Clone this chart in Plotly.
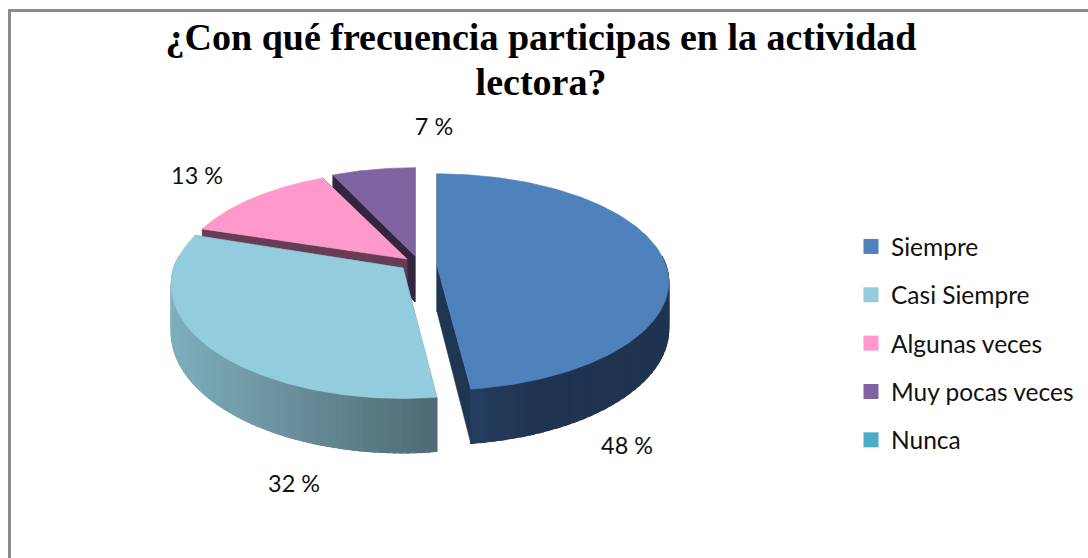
import numpy as np
import plotly.graph_objects as go

categories = ["Siempre", "Casi Siempre", "Algunas veces", "Muy pocas veces", "Nunca"]
values = [48, 32, 13, 7, 0]
title_lines = ["¿Con qué frecuencia participas en la actividad", "lectora?"]

top_colors = ["#4F81BD", "#93CDDD", "#FF99CC", "#8064A2", "#4BACC6"]
cut_colors = ["#1E3650", "#5F7F88", "#663D55", "#32263F", "#2A6070"]
wall_left = ["#263E60", "#7FAFBD", "#663D55", "#32263F", "#2A6070"]
wall_right = ["#1F3450", "#4F6B73", "#663D55", "#32263F", "#2A6070"]

# projected disc geometry (screen units)
AX, BY, PERSP, DEPTH = 229.0, 108.4, 0.153, 46.0
apexes = [(437, 265.5), (403, 268), (407, 259), (415, 256)]
scale_x = [1.0, 1.0, 0.985, 0.96]
scale_y = [0.975, 1.02, 0.94, 0.94]
label_pos = [(627, 448), (294, 486), (197, 178), (434, 129)]


def project(theta, i):
    u, v = np.sin(theta), np.cos(theta)
    w = 1 + PERSP * v
    return (apexes[i][0] + scale_x[i] * AX * u / w,
            apexes[i][1] - scale_y[i] * BY * v / w,
            DEPTH / w)


def mix(c1, c2, t):
    a = [int(c1[i:i + 2], 16) for i in (1, 3, 5)]
    b = [int(c2[i:i + 2], 16) for i in (1, 3, 5)]
    return "rgb({},{},{})".format(*[round(p + (q - p) * t) for p, q in zip(a, b)])


def poly(xs, ys, color, width=0.6):
    return go.Scatter(x=list(xs), y=list(ys), mode="lines", fill="toself",
                      fillcolor=color, line=dict(color=color, width=width),
                      hoverinfo="skip", showlegend=False)


fig = go.Figure()
total = sum(values)
edges = np.cumsum([0] + values) / total * 2 * np.pi
for i in reversed(range(4)):
    apex = apexes[i]
    th = np.linspace(edges[i], edges[i + 1], 160)
    x, y, d = project(th, i)
    # cut faces
    for k in (0, -1):
        fig.add_trace(poly([apex[0], x[k], x[k], apex[0], apex[0]],
                           [apex[1], y[k], y[k] + d[k], apex[1] + DEPTH, apex[1]],
                           cut_colors[i]))
    # outer wall, front part only
    if i < 2:
        front = np.where(np.cos(th) < 0.1)[0]
        xmin, xmax = x[front].min(), x[front].max()
        for j in front[:-1:2]:
            if i == 0:
                t = min(1, (x[j] - xmin) / 70)
            else:
                t = (x[j] - xmin) / (xmax - xmin)
            e = min(j + 3, len(th) - 1)
            fig.add_trace(poly([x[j], x[e], x[e], x[j], x[j]],
                               [y[j], y[e], y[e] + d[e], y[j] + d[j], y[j]],
                               mix(wall_left[i], wall_right[i], t), width=1.2))
    # top face
    fig.add_trace(poly([apex[0], *x, apex[0]], [apex[1], *y, apex[1]], top_colors[i]))

# data labels
fig.add_trace(go.Scatter(x=[p[0] for p in label_pos], y=[p[1] for p in label_pos],
                         mode="text", text=[f"{v} %" for v in values[:4]],
                         textposition="middle center", hoverinfo="skip", showlegend=False,
                         textfont=dict(family="Lato", size=23.4, color="#111111")))

# legend entries
for name, color in zip(categories, top_colors):
    fig.add_trace(go.Scatter(x=[None], y=[None], mode="markers", name=name, legendgroup=name,
                             marker=dict(symbol="square", size=15, color=color)))

title_text = "<br>".join(f'<span style="font-size:38px">{t}</span>' for t in title_lines)
fig.update_layout(
    width=1088, height=558, margin=dict(l=0, r=0, t=0, b=0),
    paper_bgcolor="white", plot_bgcolor="white",
    xaxis=dict(range=[0, 1088], visible=False, fixedrange=True),
    yaxis=dict(range=[558, 0], visible=False, fixedrange=True),
    title=dict(text=title_text, x=541 / 1088, xanchor="center",
               y=1 - 50 / 558, yanchor="top",
               font=dict(family="Liberation Serif", size=34.6, color="black", weight="bold")),
    font=dict(family="Lato"),
    legend=dict(x=851 / 1088, xanchor="left", y=1 - 224 / 558, yanchor="top",
                font=dict(family="Lato", size=24.5, color="#111111"),
                tracegroupgap=13.5, bgcolor="rgba(0,0,0,0)"),
    shapes=[dict(type="rect", xref="x", yref="y", x0=9.5, y0=10.5, x1=1100, y1=570,
                 line=dict(color="#8C8C8C", width=3))],
)
fig.write_html("out.html", config={"displayModeBar": False},
               post_script="document.body.style.margin='0';")
